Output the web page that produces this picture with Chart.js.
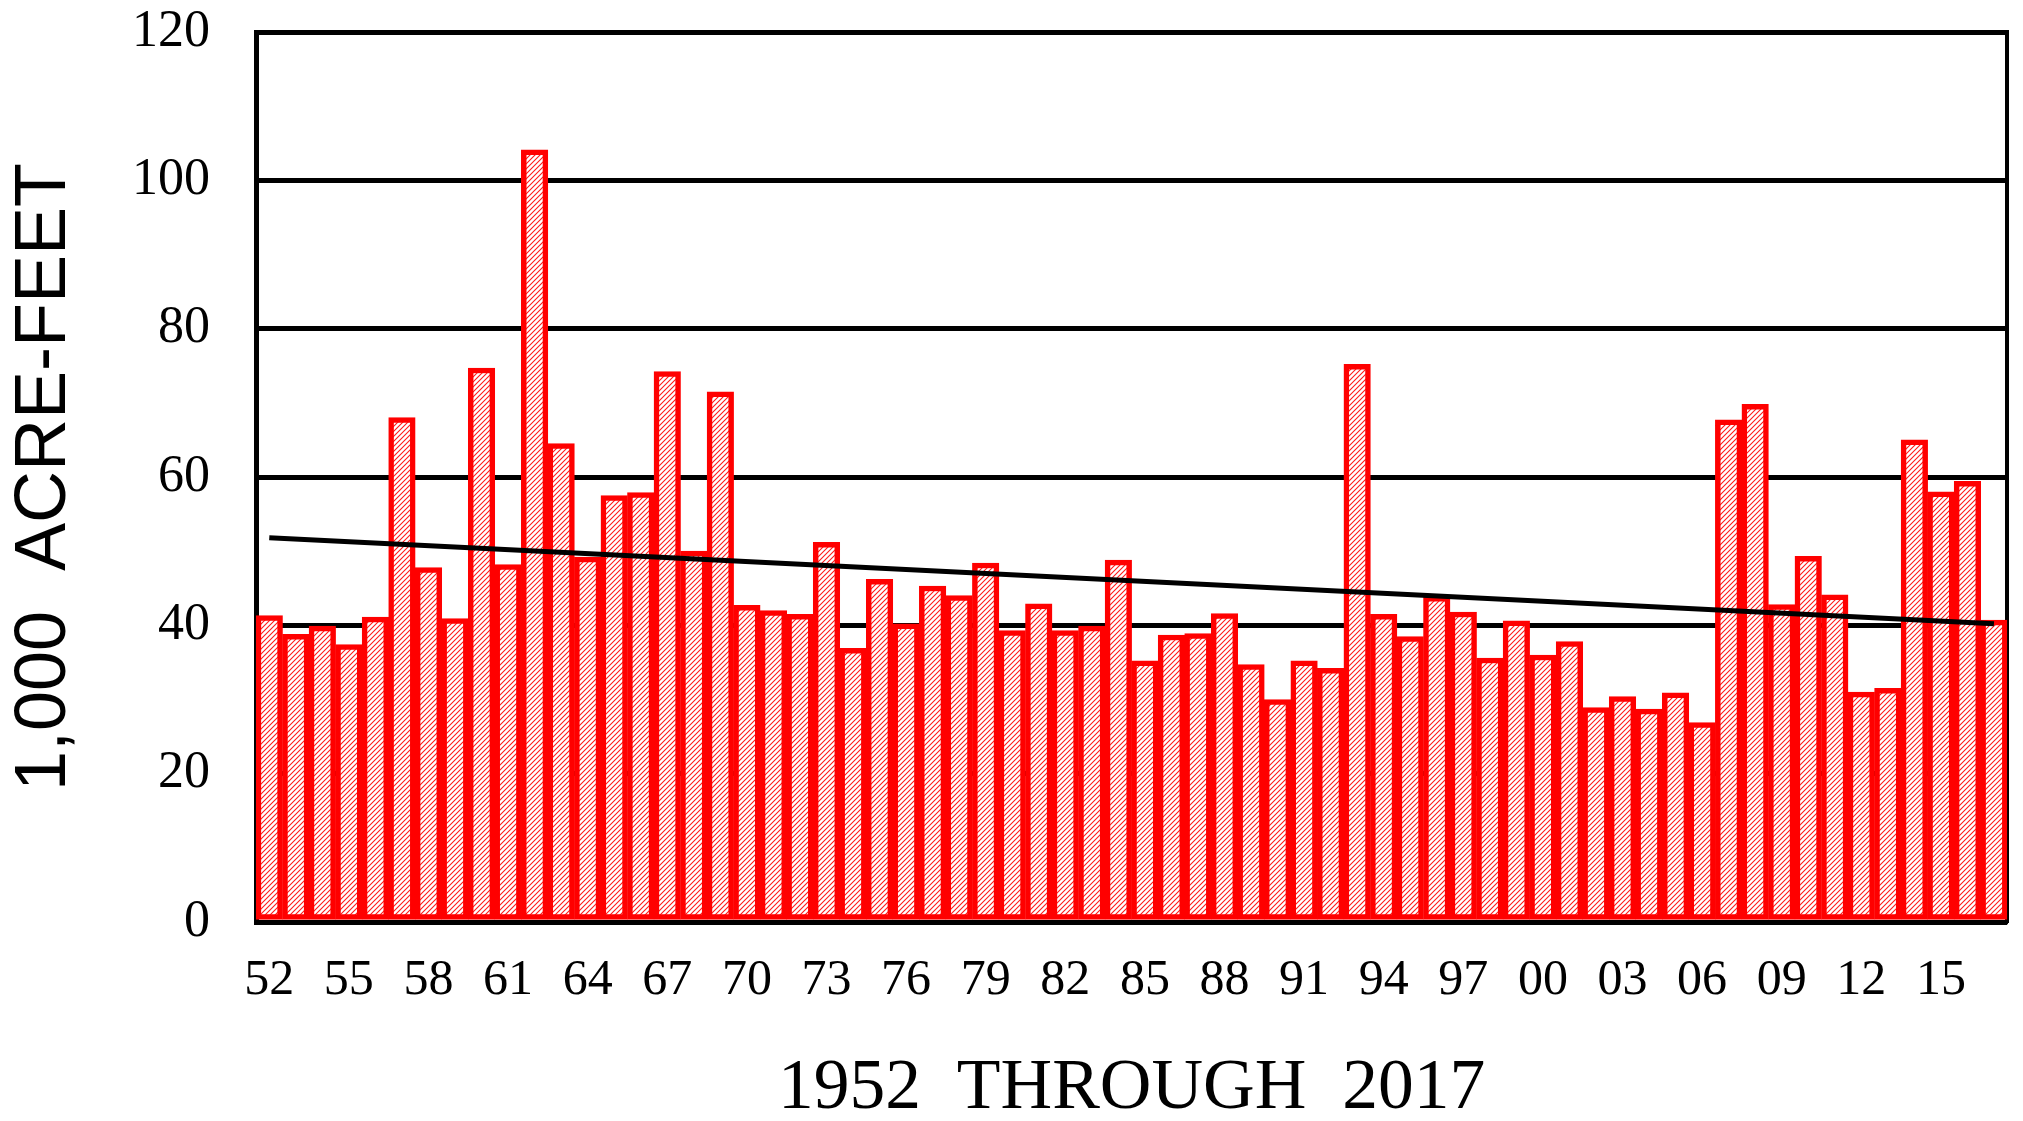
<!DOCTYPE html>
<html>
<head>
<meta charset="utf-8">
<script src="https://cdn.jsdelivr.net/npm/chart.js@4.4.0/dist/chart.umd.min.js"></script>
<style>
  html, body { margin: 0; padding: 0; background: #fff; }
  #wrap { width: 2023px; height: 1121px; }
</style>
</head>
<body>
<div id="wrap"><canvas id="flowChart" width="2023" height="1121"></canvas></div>
<script>
// water years 1952 - 2017 (two digit labels)
const years = [
  '52', '53', '54', '55', '56', '57', '58', '59', '60', '61',
  '62', '63', '64', '65', '66', '67', '68', '69', '70', '71',
  '72', '73', '74', '75', '76', '77', '78', '79', '80', '81',
  '82', '83', '84', '85', '86', '87', '88', '89', '90', '91',
  '92', '93', '94', '95', '96', '97', '98', '99', '00', '01',
  '02', '03', '04', '05', '06', '07', '08', '09', '10', '11',
  '12', '13', '14', '15', '16', '17'
];

// annual volume, 1,000 acre-feet
const volume = [
  41.3, 38.8, 39.9, 37.4, 41.1, 68.0, 47.8, 40.9, 74.7, 48.2,
  104.1, 64.5, 49.2, 57.5, 57.9, 74.2, 50.0, 71.5, 42.7, 42.0,
  41.5, 51.2, 36.9, 46.2, 40.2, 45.3, 44.0, 48.4, 39.3, 42.9,
  39.3, 39.9, 48.8, 35.2, 38.7, 38.9, 41.6, 34.7, 30.0, 35.2,
  34.2, 75.2, 41.5, 38.5, 43.9, 41.8, 35.6, 40.6, 36.0, 37.8,
  28.9, 30.4, 28.7, 30.9, 26.9, 67.7, 69.8, 42.8, 49.3, 44.1,
  31.0, 31.5, 65.0, 58.0, 59.4, 40.7
];

// trend line value at first and last year
const trendEnds = [51.8, 40.2];

const yRange = { min: 0, max: 120, step: 20 };

const trend = years.map((_, i) => {
  if (i === 0) return trendEnds[0];
  if (i === years.length - 1) return trendEnds[1];
  return null;
});

// diagonal red hatch used inside the bars
function hatchPattern() {
  const c = document.createElement('canvas');
  c.width = 5; c.height = 5;
  const g = c.getContext('2d');
  g.fillStyle = '#ffffff';
  g.fillRect(0, 0, 5, 5);
  g.strokeStyle = '#ff1a1a';
  g.lineWidth = 1.1;
  g.beginPath();
  g.moveTo(-1, 6); g.lineTo(6, -1);
  g.moveTo(-1, 1); g.lineTo(1, -1);
  g.moveTo(4, 6); g.lineTo(6, 4);
  g.stroke();
  return g.createPattern(c, 'repeat');
}

const serif = 'Liberation Serif';
const ctx = document.getElementById('flowChart').getContext('2d');

new Chart(ctx, {
  type: 'bar',
  data: {
    labels: years,
    datasets: [
      {
        type: 'line',
        data: trend,
        borderColor: '#000000',
        borderWidth: 5,
        pointRadius: 0,
        spanGaps: true,
        order: 0
      },
      {
        data: volume,
        backgroundColor: hatchPattern(),
        borderColor: '#ff0000',
        borderWidth: 5.5,
        borderSkipped: false,
        barPercentage: 1,
        categoryPercentage: 1,
        order: 1
      }
    ]
  },
  options: {
    responsive: false,
    animation: false,
    layout: { padding: { left: 0, right: 4, top: 32, bottom: 0 } },
    plugins: { legend: { display: false }, tooltip: { enabled: false } },
    scales: {
      x: {
        grid: { display: false, drawTicks: false },
        border: { display: true, color: '#000000', width: 4 },
        ticks: {
          autoSkip: false,
          maxRotation: 0,
          padding: 29,
          color: '#000000',
          font: { family: serif, size: 50 },
          callback: (val, i) => (i % 3 === 0 ? years[i] : '')
        },
        title: {
          display: true,
          text: '1952  THROUGH  2017',
          color: '#000000',
          font: { family: serif, size: 71.5, lineHeight: 0.8 },
          padding: { top: 0, bottom: 3 }
        },
        afterFit: s => { s.height = 199; }
      },
      y: {
        min: yRange.min,
        max: yRange.max,
        ticks: {
          stepSize: yRange.step,
          padding: 0,
          color: '#000000',
          font: { family: serif, size: 52 }
        },
        grid: {
          color: '#000000',
          lineWidth: 5,
          drawTicks: true,
          tickLength: 46,
          tickColor: 'rgba(0,0,0,0)'
        },
        border: { display: true, color: '#000000', width: 5 },
        title: {
          display: true,
          text: '1,000  ACRE-FEET',
          color: '#000000',
          font: { family: 'Liberation Sans', size: 72 },
          padding: { top: 2, bottom: 0 }
        },
        afterFit: s => { s.width = 256; }
      },
      yRight: {
        position: 'right',
        min: yRange.min,
        max: yRange.max,
        ticks: { display: false },
        grid: { display: false, drawTicks: false },
        border: { display: true, color: '#000000', width: 4 },
        afterFit: s => { s.width = 0; }
      }
    }
  }
});
</script>
</body>
</html>
